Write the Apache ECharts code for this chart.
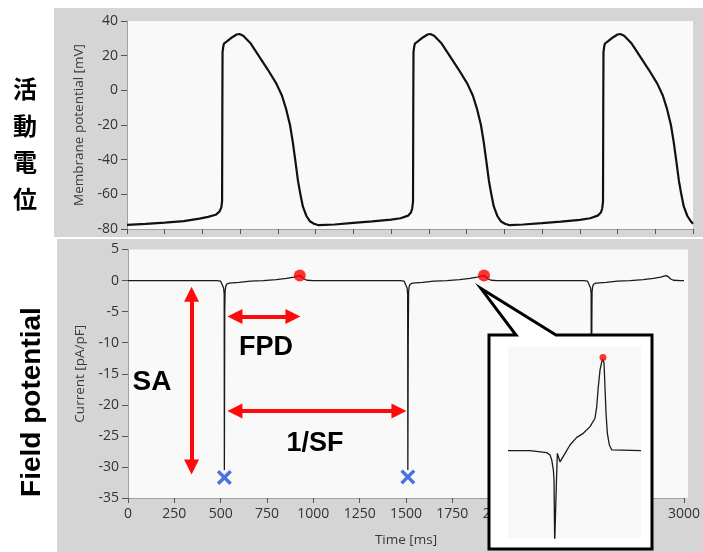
<!DOCTYPE html>
<html>
<head>
<meta charset="utf-8">
<script src="https://cdn.jsdelivr.net/npm/echarts@6/dist/echarts.min.js"></script>
<style>
html,body{margin:0;padding:0;background:#fff;}
#c{width:703px;height:552px;}
</style>
</head>
<body>
<div id="c"></div>
<script>
// ---- Action potential (top) ----
const apTime = [0,100,200,300,384,430,470,490,500,504,505.5,506.5,510,514,533,556,581,596,616,656,701,746,791,821,844,864,879,894,906,919,932,951,969,991,1016,1100,1200,1300,1400,1450,1490,1505,1512,1516,1517.5,1518.5,
1522,1526,1545,1568,1593,1608,1628,1668,1713,1758,1803,1833,1856,1876,1891,1906,1918,1931,1944,1963,1981,2003,2028,2100,2200,2300,2400,2455,2495,2512,2519,2523,2524.5,2525.5,
2529,2533,2552,2575,2600,2615,2635,2675,2720,2765,2810,2840,2863,2883,2898,2913,2925,2938,2951,2970,2988,3000];
const apValue = [-77.6,-77.0,-76.3,-75.5,-74.0,-73.0,-71.8,-70.0,-67.5,-64,-5,22,25,27,28.5,30.5,32.2,32.5,31.5,27,19.5,12,4,-3,-11,-20,-30,-42,-52,-60,-67,-72.5,-75.5,-77,-77.8,-77.4,-76.5,-75.6,-74.6,-73.8,-72.3,-70.5,-68,-64,-5,22,
25,27,28.5,30.5,32.2,32.5,31.5,27,19.5,12,4,-3,-11,-20,-30,-42,-52,-60,-67,-72.5,-75.5,-77,-77.8,-77.4,-76.6,-75.7,-74.7,-73.8,-72.3,-70.5,-68,-64,-5,22,
25,27,28.5,30.5,32.2,32.5,31.5,27,19.5,12,4,-3,-11,-20,-30,-42,-52,-60,-67,-72.5,-75.5,-77];

// ---- Field potential (bottom) ----
const fpTime = [0,300,480,500,510,516,519,520,522,524,527,532,545,600,660,730,800,855,895,912,927,938,950,965,1000,
1470,1490,1500,1506,1509,1510,1512,1514,1517,1522,1535,1590,1650,1720,1790,1845,1885,1905,1921,1932,1944,1959,1990,
2460,2480,2490,2496,2499,2500,2502,2504,2507,2512,2525,2580,2640,2710,2780,2835,2875,2892,2905,2916,2928,2943,2980,3000];
const fpValue = [0,0,0,-0.1,-0.4,-1.2,-2.2,-30.5,-5,-1.8,-1,-0.6,-0.4,-0.3,-0.1,0,0.15,0.35,0.55,0.7,0.8,0.6,0.25,0.05,0,
0,-0.1,-0.4,-1.2,-2.2,-30.5,-10,-1.8,-1,-0.6,-0.4,-0.3,-0.1,0,0.15,0.35,0.55,0.7,0.8,0.6,0.25,0.05,0,
0,-0.1,-0.4,-1.2,-2.2,-30.5,-10,-1.8,-1,-0.6,-0.4,-0.3,-0.1,0,0.15,0.35,0.55,0.7,0.8,0.6,0.25,0.05,0,0];

// T-wave peaks (red dots) and spike minima (blue crosses)
const peakTime = [927, 1921];
const peakValue = [0.8, 0.8];
const minTime = [520, 1510];
const minValue = [-31.7, -31.6];

// Annotation arrows (data coordinates)
const arrowSA  = [[343, -2.2], [343, -30.0]];
const arrowFPD = [[577, -5.8], [890, -5.8]];
const arrowSF  = [[577, -21.0], [1462, -21.0]];

// Magnified inset trace (arbitrary units 0-100)
const insetX = [0,16.5,17.8,29.1,31.6,32.9,34.1,34.6,35.1,36.0,36.3,37.1,37.8,39.1,40.4,42.9,46.6,51.7,56.6,61.7,65.4,66.7,67.9,69.2,70.5,71.4,72.2,72.9,73.7,74.7,76.2,78.0,100];
const insetY = [45.7,45.7,45.0,44.7,43.5,40.8,35.6,30.4,-3,-3,26.9,44.3,45.2,39.9,40.8,44.3,48.7,52.7,54.8,58.3,62.7,68.7,79.2,88.0,92.3,93.7,91.5,79.2,65.3,54.8,48.7,46.1,45.7];
const insetPeak = [71.4, 94.5];

// Axis tick settings
const xTicksTop = {min: 0, max: 3000, interval: 200};
const xTicksBottom = {min: 0, max: 3000, interval: 250};
const yTicksTop = {min: -80, max: 40, interval: 20};
const yTicksBottom = {min: -35, max: 5, interval: 5};

const pair = (a, b) => a.map((v, i) => [v, b[i]]);

const FONT = '"Open Sans", "Noto Sans", sans-serif';
const plain = v => String(v);
const axisCommon = {
  axisLine: {show: true, onZero: false, lineStyle: {color: '#a0a0a0', width: 1}},
  axisTick: {show: true, length: 6, lineStyle: {color: '#555'}},
  splitLine: {show: false},
  nameTextStyle: {color: '#3a3a3a', fontSize: 13.5, fontFamily: FONT}
};

const grids = [
  {left: 127, top: 21, width: 566, height: 208},
  {left: 128, top: 249.5, width: 560, height: 248.5},
  {left: 508, top: 347, width: 133, height: 191}
];

const chart = echarts.init(document.getElementById('c'), null, {renderer: 'canvas'});

const option = {
  animation: false,
  backgroundColor: '#ffffff',
  grid: grids.map(g => Object.assign({containLabel: false}, g)),
  xAxis: [
    Object.assign({}, axisCommon, {gridIndex: 0, type: 'value', min: xTicksTop.min, max: xTicksTop.max, interval: xTicksTop.interval,
      axisLabel: {show: false}, axisTick: {show: true, length: 5, lineStyle: {color: '#555'}}}),
    Object.assign({}, axisCommon, {gridIndex: 1, type: 'value', min: xTicksBottom.min, max: xTicksBottom.max, interval: xTicksBottom.interval,
      axisTick: {show: true, length: 5, lineStyle: {color: '#555'}},
      axisLabel: {color: '#333', fontSize: 14, fontFamily: FONT, margin: 9, formatter: plain},
      name: 'Time [ms]', nameLocation: 'middle', nameGap: 35}),
    {gridIndex: 2, type: 'value', min: 0, max: 100, show: false}
  ],
  yAxis: [
    Object.assign({}, axisCommon, {gridIndex: 0, type: 'value', min: yTicksTop.min, max: yTicksTop.max, interval: yTicksTop.interval,
      axisLabel: {color: '#333', fontSize: 14, fontFamily: FONT, margin: 9, formatter: plain},
      name: 'Membrane potential [mV]', nameLocation: 'middle', nameGap: 32}),
    Object.assign({}, axisCommon, {gridIndex: 1, type: 'value', min: yTicksBottom.min, max: yTicksBottom.max, interval: yTicksBottom.interval,
      axisLabel: {color: '#333', fontSize: 14, fontFamily: FONT, margin: 9, formatter: plain},
      name: 'Current [pA/pF]', nameLocation: 'middle', nameGap: 39}),
    {gridIndex: 2, type: 'value', min: 0, max: 100, show: false}
  ],
  series: [
    {type: 'line', xAxisIndex: 0, yAxisIndex: 0, data: pair(apTime, apValue), showSymbol: false, symbol: 'none',
      lineStyle: {color: '#111', width: 2.2}, silent: true},
    {type: 'line', xAxisIndex: 1, yAxisIndex: 1, data: pair(fpTime, fpValue), showSymbol: false, symbol: 'none',
      lineStyle: {color: '#1a1a1a', width: 1.3}, silent: true,
      markLine: {
        silent: true, animation: false,
        symbol: ['triangle', 'triangle'], symbolSize: 15,
        label: {show: false},
        lineStyle: {color: '#ff0a0a', width: 4, type: 'solid'},
        itemStyle: {color: '#ff0a0a'},
        emphasis: {disabled: true},
        data: [
          [{coord: arrowSA[0]}, {coord: arrowSA[1]}],
          [{coord: arrowFPD[0]}, {coord: arrowFPD[1]}],
          [{coord: arrowSF[0]}, {coord: arrowSF[1]}]
        ]
      }},
    {type: 'scatter', xAxisIndex: 1, yAxisIndex: 1, data: pair(peakTime, peakValue), symbol: 'circle', symbolSize: 12,
      itemStyle: {color: '#ff0000'}, silent: true, z: 5},
    {type: 'scatter', xAxisIndex: 1, yAxisIndex: 1, data: pair(minTime, minValue),
      symbol: 'path://M0,1.6 L1.6,0 L5,3.4 L8.4,0 L10,1.6 L6.6,5 L10,8.4 L8.4,10 L5,6.6 L1.6,10 L0,8.4 L3.4,5 Z',
      symbolSize: 15, itemStyle: {color: '#1f4fd8'}, silent: true, z: 5},
    {type: 'line', xAxisIndex: 2, yAxisIndex: 2, data: pair(insetX, insetY), showSymbol: false, symbol: 'none',
      lineStyle: {color: '#1a1a1a', width: 1.3}, silent: true, z: 100, clip: true},
    {type: 'scatter', xAxisIndex: 2, yAxisIndex: 2, data: [insetPeak], symbol: 'circle', symbolSize: 7,
      itemStyle: {color: '#ff0000'}, silent: true, z: 101}
  ]
};

chart.setOption(option);

// Callout tip points at the second red dot
const dotPx = chart.convertToPixel({seriesIndex: 2}, [peakTime[1], peakValue[1]]);
const tip = [dotPx[0] - 3, dotPx[1] + 13];

chart.setOption({
  graphic: [
    {type: 'rect', z: -20, silent: true, shape: {x: 54, y: 8, width: 649, height: 229}, style: {fill: '#d5d5d5'}},
    {type: 'rect', z: -20, silent: true, shape: {x: 57, y: 239, width: 646, height: 313}, style: {fill: '#d5d5d5'}},
    {type: 'rect', z: -19, silent: true, shape: {x: grids[0].left, y: grids[0].top, width: grids[0].width, height: grids[0].height}, style: {fill: '#f9f9f9'}},
    {type: 'rect', z: -19, silent: true, shape: {x: grids[1].left, y: grids[1].top, width: grids[1].width, height: grids[1].height}, style: {fill: '#f9f9f9'}},
    {type: 'polygon', z: 50, silent: true,
      shape: {points: [[489, 335], [516, 335], tip, [556, 335], [652, 335], [652, 549], [489, 549]]},
      style: {fill: '#ffffff', stroke: '#000', lineWidth: 3, lineJoin: 'miter'}},
    {type: 'rect', z: 51, silent: true, shape: {x: grids[2].left, y: grids[2].top, width: grids[2].width, height: grids[2].height}, style: {fill: '#f8f8f8'}},
    {type: 'text', z: 20, silent: true, x: 152, y: 382,
      style: {text: 'SA', font: 'bold 28px "Liberation Sans", Arial, sans-serif', fill: '#000', textAlign: 'center', textVerticalAlign: 'middle'}},
    {type: 'text', z: 20, silent: true, x: 266, y: 348,
      style: {text: 'FPD', font: 'bold 27px "Liberation Sans", Arial, sans-serif', fill: '#000', textAlign: 'center', textVerticalAlign: 'middle'}},
    {type: 'text', z: 20, silent: true, x: 315, y: 444,
      style: {text: '1/SF', font: 'bold 27px "Liberation Sans", Arial, sans-serif', fill: '#000', textAlign: 'center', textVerticalAlign: 'middle'}},
    {type: 'text', z: 20, silent: true, x: 25, y: 144,
      style: {text: '活\n動\n電\n位', font: 'bold 24px "Noto Sans CJK JP", sans-serif', lineHeight: 36.7, fill: '#000', textAlign: 'center', textVerticalAlign: 'middle'}},
    {type: 'text', z: 20, silent: true, x: 32, y: 402, rotation: Math.PI / 2,
      style: {text: 'Field potential', font: 'bold 28px "Liberation Sans", Arial, sans-serif', fill: '#000', textAlign: 'center', textVerticalAlign: 'middle'}}
  ]
});
</script>
</body>
</html>
